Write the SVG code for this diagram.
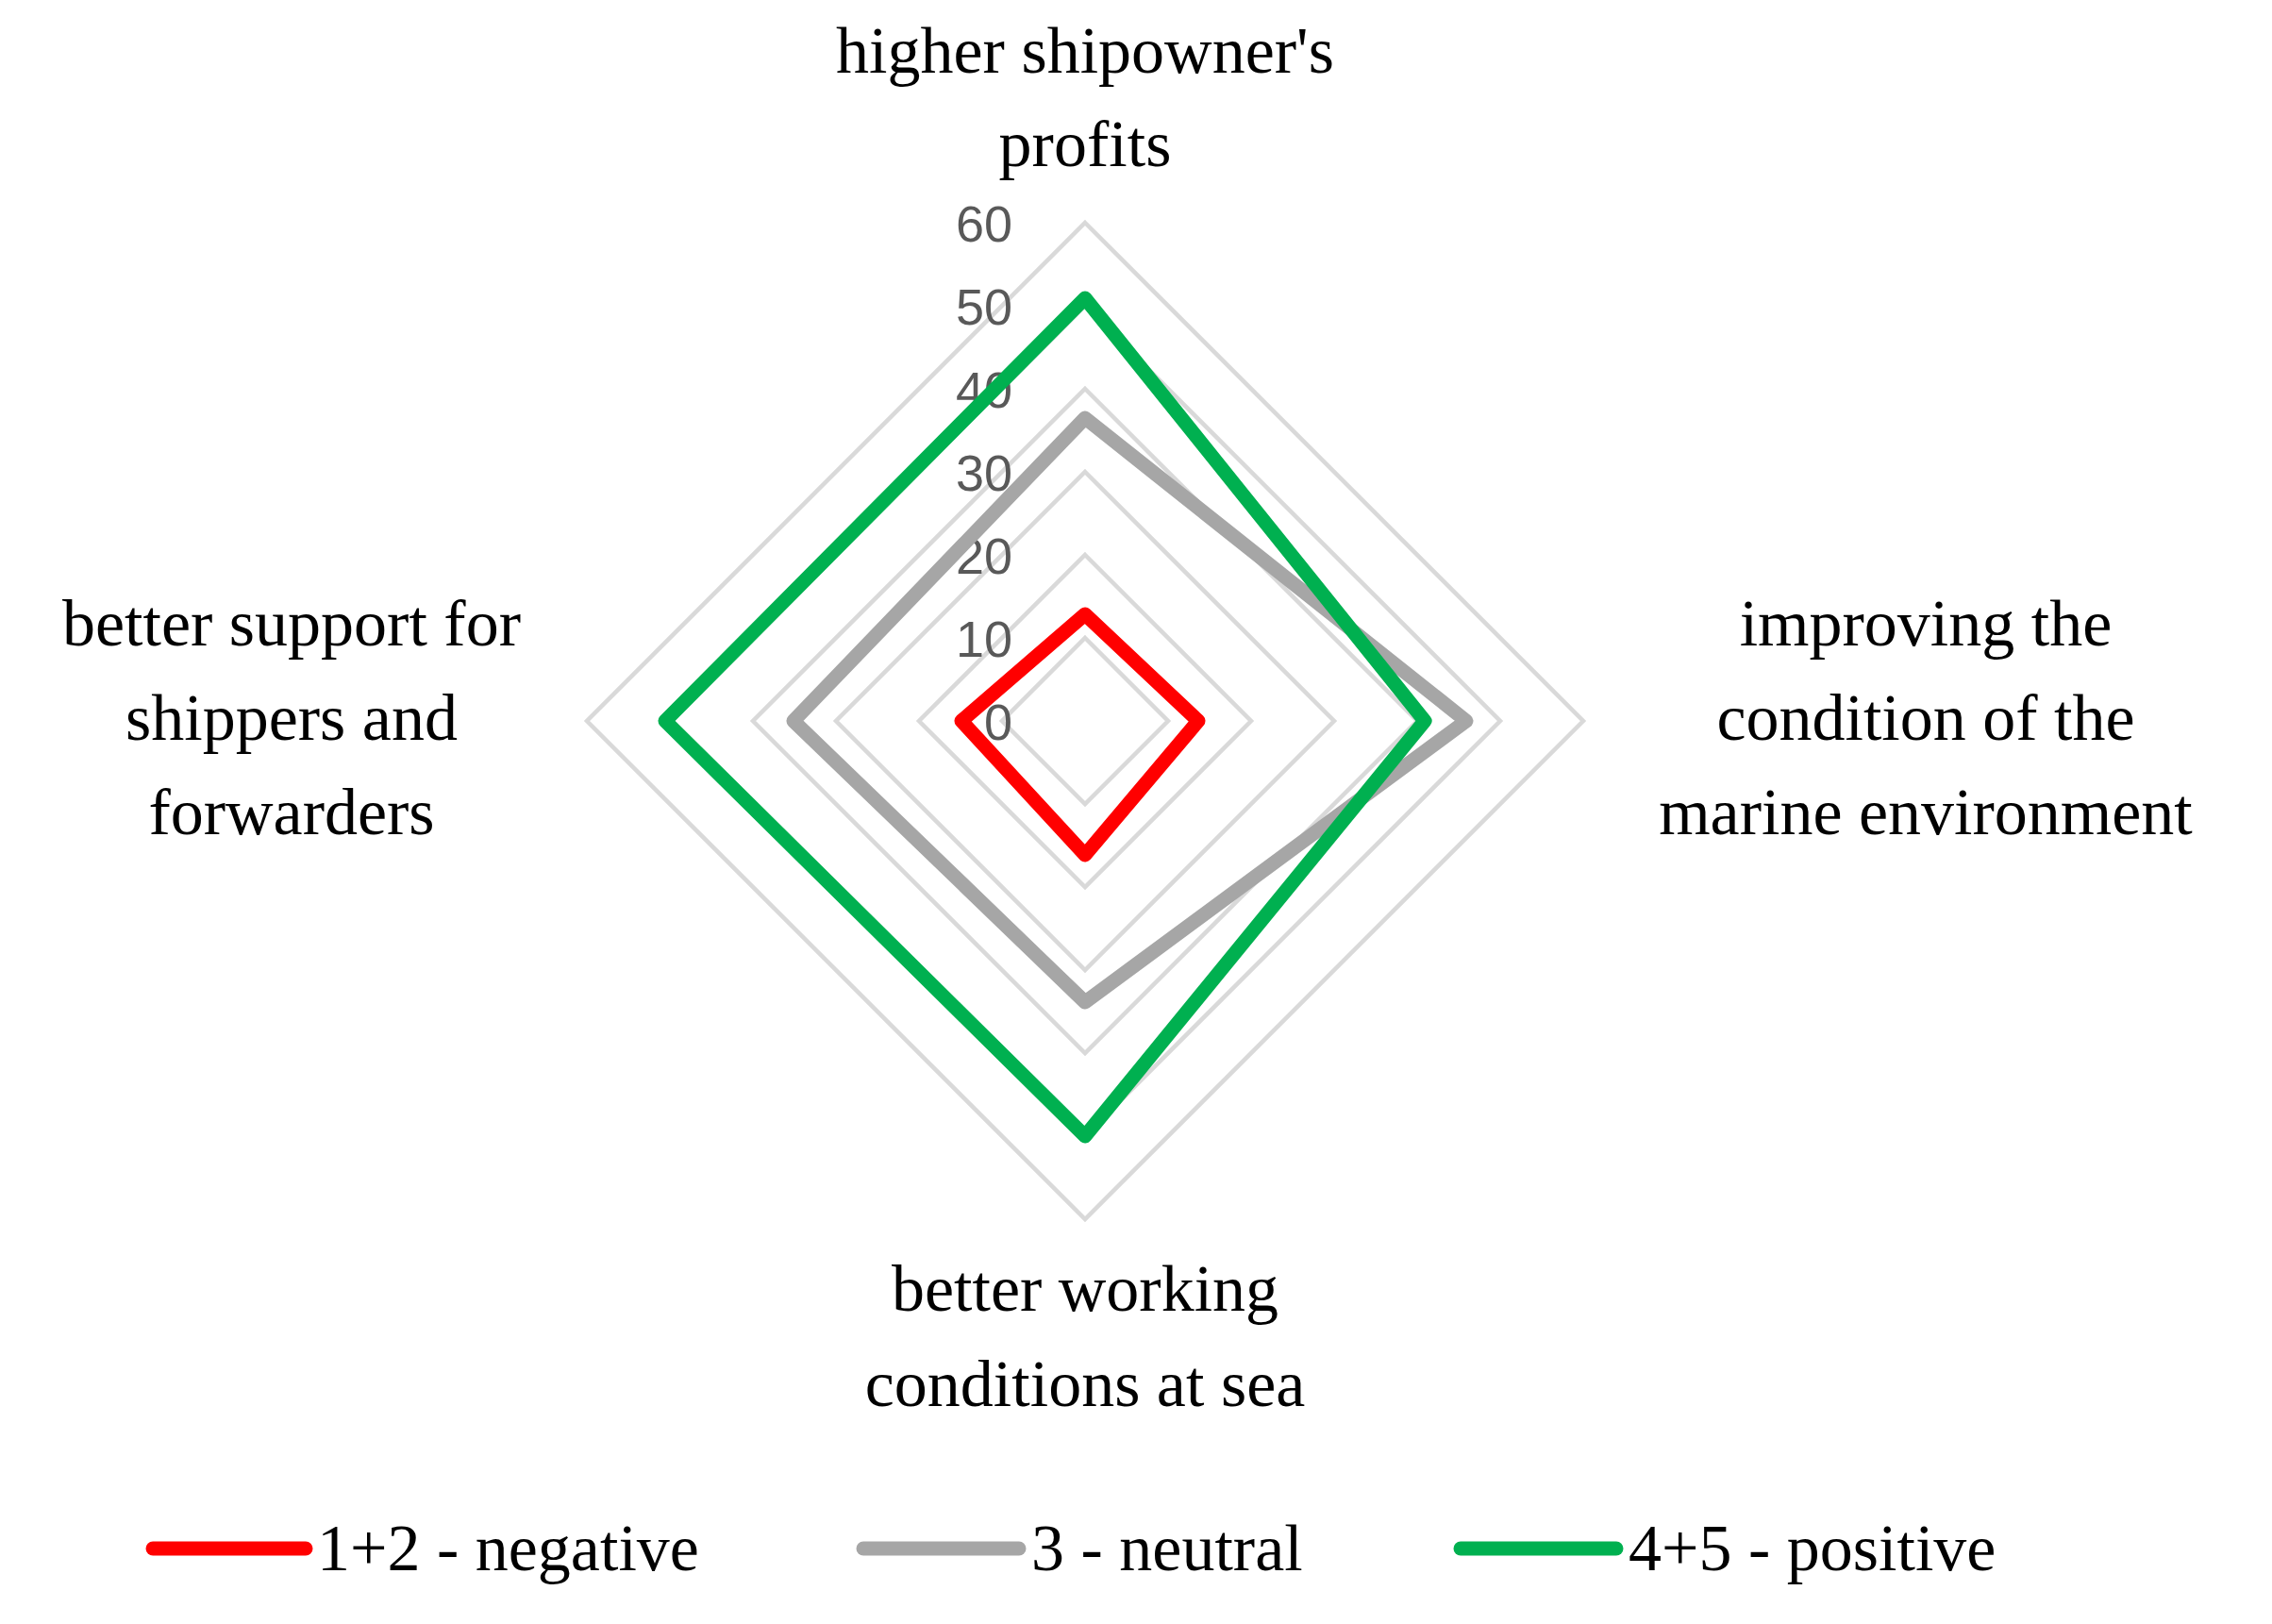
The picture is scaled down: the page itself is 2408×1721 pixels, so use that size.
<svg xmlns="http://www.w3.org/2000/svg" width="2408" height="1721" viewBox="0 0 2408 1721">
<style>
.grid{fill:none;stroke:#d9d9d9;stroke-width:4.5}
.s{fill:none;stroke-width:15;stroke-linejoin:round;stroke-linecap:round}
.lbl{font-family:"Liberation Serif",serif;font-size:70px;fill:#000;text-anchor:middle}
.ax{font-family:"Liberation Sans",sans-serif;font-size:54px;fill:#595959;text-anchor:end}
</style>
<rect width="2408" height="1721" fill="#fff"/>
<g id="grid">
<polygon class="grid" points="1150,676 1238,764 1150,852 1062,764"/>
<polygon class="grid" points="1150,588 1326,764 1150,940 974,764"/>
<polygon class="grid" points="1150,500 1414,764 1150,1028 886,764"/>
<polygon class="grid" points="1150,412 1502,764 1150,1116 798,764"/>
<polygon class="grid" points="1150,324 1590,764 1150,1204 710,764"/>
<polygon class="grid" points="1150,236 1678,764 1150,1292 622,764"/>
</g>
<g id="axis">
<text class="ax" x="1073" y="784">0</text>
<text class="ax" x="1073" y="696">10</text>
<text class="ax" x="1073" y="608">20</text>
<text class="ax" x="1073" y="520">30</text>
<text class="ax" x="1073" y="432">40</text>
<text class="ax" x="1073" y="344">50</text>
<text class="ax" x="1073" y="256">60</text>
</g>
<g id="series">
<polygon class="s" stroke="#a6a6a6" points="1150,443 1554,764 1150,1062 841,764"/>
<polygon class="s" stroke="#00b050" points="1150,316 1510,764 1150,1204 705,764"/>
<polygon class="s" stroke="#ff0000" points="1150,651 1270,764 1150,906 1019,764"/>
</g>
<g id="labels">
<text class="lbl" x="1150" y="77">higher shipowner's</text>
<text class="lbl" x="1150" y="176">profits</text>
<text class="lbl" x="2041" y="684">improving the</text>
<text class="lbl" x="2041" y="784">condition of the</text>
<text class="lbl" x="2041" y="884">marine environment</text>
<text class="lbl" x="309" y="684">better support for</text>
<text class="lbl" x="309" y="784">shippers and</text>
<text class="lbl" x="309" y="884">forwarders</text>
<text class="lbl" x="1150" y="1389">better working</text>
<text class="lbl" x="1150" y="1490">conditions at sea</text>
</g>
<g id="legend">
<line class="s" stroke="#ff0000" x1="162" y1="1641" x2="324" y2="1641"/>
<text class="lbl" style="text-anchor:start" x="336" y="1664">1+2 - negative</text>
<line class="s" stroke="#a6a6a6" x1="915" y1="1641" x2="1080" y2="1641"/>
<text class="lbl" style="text-anchor:start" x="1093" y="1664">3 - neutral</text>
<line class="s" stroke="#00b050" x1="1548" y1="1641" x2="1713" y2="1641"/>
<text class="lbl" style="text-anchor:start" x="1726" y="1664">4+5 - positive</text>
</g>
</svg>
